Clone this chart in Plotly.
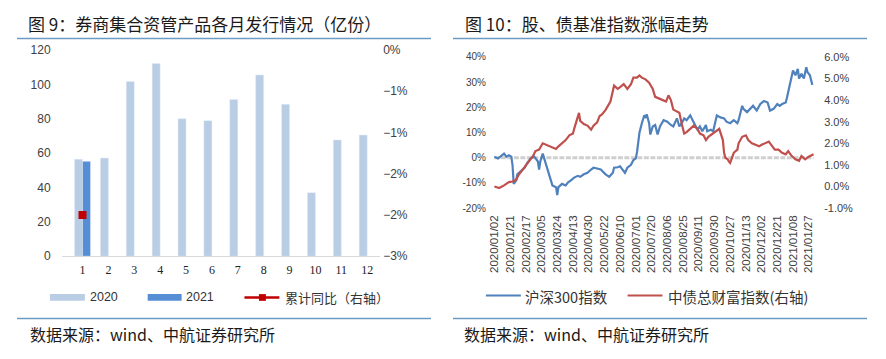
import plotly.graph_objects as go

# The page body has an 8px margin, so the figure is drawn 8px in from the window edge.
WIN_W, WIN_H = 886, 359
OFF = 8
W, H = WIN_W - 2 * OFF, WIN_H - 2 * OFF

# ---------------- Left chart data (图9) ----------------
months = [str(m) for m in range(1, 13)]
issue_2020 = [56.5, 57.1, 101.7, 112.2, 80.0, 78.9, 91.2, 105.5, 88.4, 37.0, 67.7, 70.5]
months_2021 = ["1"]
issue_2021 = [55.2]
cum_yoy_months = ["1"]
cum_yoy = [-0.024]
yoy_tickvals = [0, -0.006, -0.012, -0.018, -0.024, -0.030]
yoy_ticktext = ["0%", "\u22121%", "\u22121%", "\u22122%", "\u22122%", "\u22123%"]

# ---------------- Right chart data (图10) ----------------
# x = trading-day number counted from 2020/01/02 (category axis of trading days)
tick_days = [13 * k for k in range(21)]
tick_dates = ["2020/01/02", "2020/01/21", "2020/02/17", "2020/03/05", "2020/03/24",
              "2020/04/13", "2020/04/30", "2020/05/22", "2020/06/10", "2020/07/01",
              "2020/07/20", "2020/08/06", "2020/08/25", "2020/09/11", "2020/09/30",
              "2020/10/27", "2020/11/13", "2020/12/02", "2020/12/21", "2021/01/08",
              "2021/01/27"]

hs300_day = [0, 3, 5, 8, 10, 12, 14, 15, 16, 18, 19, 22, 25, 27, 30, 33, 36, 37, 38, 40,
             42, 44, 47, 48, 51, 52, 53, 56, 59, 61, 63, 66, 69, 71, 74, 77, 80, 82, 85, 88,
             92, 95, 98, 99, 102, 104, 106, 108, 110, 113, 115, 117, 118, 120, 122, 124, 125,
             126, 128, 129, 131, 133, 135, 137, 140, 143, 146, 148, 151, 153, 155, 157, 159,
             162, 164, 166, 168, 170, 172, 175, 176, 179, 181, 184, 187, 190, 192, 195, 198,
             201, 202, 205, 206, 209, 212, 214, 217, 220, 223, 226, 228, 231, 234, 236, 238,
             241, 242, 245, 246, 247, 249, 251, 252, 254, 256, 258, 259, 261, 263]
hs300_pct = [0.4, -0.3, 0.4, 1.6, 0.4, 1.0, 0.4, -2.8, -10.4, -9.1, -6.6, -5.3, -4.0, -2.2,
             -0.3, 0.4, -1.5, -4.7, -1.5, 1.6, -1.5, -4.0, -9.1, -11.0, -11.7, -14.8, -11.7,
             -10.4, -11.0, -9.8, -9.1, -7.9, -7.2, -7.6, -6.6, -6.0, -4.7, -4.0, -4.3, -4.7,
             -6.6, -7.6, -6.0, -4.0, -3.8, -3.4, -4.7, -6.0, -4.0, -2.8, -0.9, -0.3, 2.3, 9.9,
             13.7, 16.8, 16.2, 17.2, 13.7, 9.2, 12.4, 13.0, 9.2, 12.4, 14.9, 14.3, 13.0, 12.4,
             15.6, 12.4, 13.7, 15.6, 14.9, 16.8, 14.9, 13.0, 11.1, 12.4, 10.5, 13.0, 10.5, 11.1,
             10.5, 16.8, 16.0, 15.6, 14.3, 13.7, 14.9, 13.7, 14.9, 20.6, 19.4, 18.1, 19.4, 20.6,
             18.7, 21.3, 22.5, 21.9, 18.7, 19.4, 21.3, 20.6, 21.3, 21.9, 23.8, 30.2, 32.7, 34.6,
             32.7, 35.2, 31.4, 33.3, 31.4, 35.9, 34.0, 32.7, 28.9]

bond_day = [0, 4, 8, 12, 15, 18, 20, 23, 26, 29, 32, 34, 37, 40, 43, 45, 48, 51, 53, 56, 59,
            62, 65, 66, 69, 70, 71, 74, 77, 80, 82, 85, 87, 89, 92, 95, 96, 99, 102, 104, 107,
            110, 113, 115, 118, 120, 122, 125, 128, 131, 133, 136, 139, 142, 144, 146, 148,
            151, 153, 155, 157, 159, 162, 165, 168, 170, 173, 175, 177, 181, 184, 186, 189,
            190, 191, 193, 194, 195, 198, 201, 202, 205, 208, 210, 213, 216, 219, 221, 224,
            227, 229, 232, 235, 238, 241, 243, 246, 249, 252, 254, 257, 260, 264]
bond_pct = [0.0, -0.07, 0.05, 0.2, 0.23, 0.31, 0.53, 0.75, 0.97, 1.19, 1.41, 1.64, 1.71, 2.0,
            1.93, 1.86, 1.81, 1.74, 1.86, 2.0, 2.15, 2.37, 2.45, 2.67, 3.26, 3.41, 3.04, 2.89,
            2.82, 2.63, 2.82, 2.97, 3.26, 3.34, 3.55, 3.85, 3.93, 4.67, 4.52, 4.6, 4.74, 4.52,
            4.74, 5.04, 5.04, 5.14, 5.04, 4.96, 4.81, 4.52, 4.15, 4.08, 4.0, 3.93, 4.22, 4.0,
            3.56, 3.48, 3.41, 2.89, 2.45, 2.52, 2.67, 2.82, 2.67, 2.45, 2.37, 2.15, 2.3, 2.45,
            2.6, 2.67, 2.15, 1.56, 1.34, 1.26, 1.15, 1.09, 1.56, 1.71, 2.0, 2.3, 2.37, 2.15,
            2.0, 1.93, 1.86, 1.93, 2.0, 2.08, 1.93, 1.71, 1.71, 1.56, 1.49, 1.64, 1.41, 1.26,
            1.19, 1.41, 1.26, 1.38, 1.49]

zero_days = [0, 264]
zero_vals = [0, 0]

left_ticks = [-20, -10, 0, 10, 20, 30, 40]
left_ticktext = ["-20%", "-10%", "0%", "10%", "20%", "30%", "40%"]
right_ticks = [-1, 0, 1, 2, 3, 4, 5, 6]
right_ticktext = ["-1.0%", "0.0%", "1.0%", "2.0%", "3.0%", "4.0%", "5.0%", "6.0%"]

# colours
C2020 = "#b9cde5"
C2021 = "#558ed5"
CRED = "#c00000"
CBLUE = "#4f81bd"
CBRED = "#c0504d"
RULE = "#6e9bc3"

CJK = "Noto Sans CJK SC"
SANS = "Liberation Sans"


def px(x):
    """window pixel x -> paper fraction"""
    return (x - OFF) / W


def py(y):
    """window pixel y -> paper fraction"""
    return 1 - (y - OFF) / H


fig = go.Figure()

# left chart
fig.add_trace(go.Bar(x=months, y=issue_2020, name="2020", marker_color=C2020,
                     xaxis="x", yaxis="y", showlegend=False))
fig.add_trace(go.Bar(x=months_2021, y=issue_2021, name="2021", marker_color=C2021,
                     xaxis="x", yaxis="y", showlegend=False))
fig.add_trace(go.Scatter(x=cum_yoy_months, y=cum_yoy, name="累计同比（右轴）",
                         mode="lines+markers", line=dict(color=CRED, width=2.5),
                         marker=dict(symbol="square", size=8, color=CRED),
                         xaxis="x", yaxis="y2", showlegend=False))

# right chart
fig.add_trace(go.Scatter(x=zero_days, y=zero_vals, mode="lines",
                         line=dict(color="#cfcfcf", width=3, dash="5px,1.5px"),
                         xaxis="x3", yaxis="y3", showlegend=False, hoverinfo="skip"))
fig.add_trace(go.Scatter(x=hs300_day, y=hs300_pct, name="沪深300指数", mode="lines",
                         line=dict(color=CBLUE, width=2.2),
                         xaxis="x3", yaxis="y3", showlegend=False))
fig.add_trace(go.Scatter(x=bond_day, y=bond_pct, name="中债总财富指数(右轴)", mode="lines",
                         line=dict(color=CBRED, width=2.2),
                         xaxis="x3", yaxis="y4", showlegend=False))

tickfont = dict(family=SANS, size=12, color="#404040")

fig.update_layout(
    width=W, height=H, autosize=False,
    margin=dict(l=0, r=0, t=0, b=0),
    paper_bgcolor="white", plot_bgcolor="white",
    barmode="group", bargap=0.38, bargroupgap=0,
    xaxis=dict(domain=[px(59.7), px(379)], anchor="y", type="category",
               showgrid=False, showline=True, linecolor="#d9d9d9", linewidth=1,
               ticks="", tickfont=dict(family="Liberation Serif", size=12, color="#222"),
               ticklabelstandoff=2),
    yaxis=dict(domain=[py(259.5), py(44.5)], range=[0, 120], dtick=20,
               showgrid=False, zeroline=False, showline=False, ticks="",
               tickfont=tickfont, ticklabelstandoff=10),
    yaxis2=dict(overlaying="y", side="right", anchor="x", range=[-0.03, 0],
                tickvals=yoy_tickvals, ticktext=yoy_ticktext,
                showgrid=False, zeroline=False, showline=False, ticks="",
                tickfont=tickfont, ticklabelstandoff=2),
    xaxis3=dict(domain=[px(489), px(818)], anchor="y3", range=[-3.7, 267.8],
                tickvals=tick_days, ticktext=tick_dates, tickangle=-90,
                showgrid=False, showline=False, zeroline=False, ticks="",
                tickfont=dict(family=SANS, size=11.5, color="#404040"),
                ticklabelstandoff=4),
    yaxis3=dict(domain=[py(209.3), py(51.7)], anchor="x3", range=[-20, 40],
                tickvals=left_ticks, ticktext=left_ticktext,
                showgrid=False, zeroline=False, showline=False, ticks="",
                tickfont=dict(family=SANS, size=10, color="#404040"),
                ticklabelstandoff=3),
    yaxis4=dict(overlaying="y3", side="right", anchor="x3", range=[-1, 6],
                tickvals=right_ticks, ticktext=right_ticktext,
                showgrid=False, zeroline=False, showline=False, ticks="",
                tickfont=dict(family=SANS, size=11, color="#404040"),
                ticklabelstandoff=5),
)

shapes = []
# rules
for (x0, x1) in [(15, 430), (452, 867)]:
    shapes.append(dict(type="line", xref="paper", yref="paper", x0=px(x0), x1=px(x1),
                       y0=py(32.5), y1=py(32.5), line=dict(color=RULE, width=1.5)))
    shapes.append(dict(type="line", xref="paper", yref="paper", x0=px(x0), x1=px(x1),
                       y0=py(324.5), y1=py(324.5), line=dict(color=RULE, width=1.5)))
# left legend
shapes.append(dict(type="rect", xref="paper", yref="paper", x0=px(48), x1=px(83),
                   y0=py(306), y1=py(299), fillcolor=C2020, line=dict(width=0)))
shapes.append(dict(type="rect", xref="paper", yref="paper", x0=px(146), x1=px(180),
                   y0=py(306), y1=py(299), fillcolor=C2021, line=dict(width=0)))
shapes.append(dict(type="line", xref="paper", yref="paper", x0=px(243), x1=px(278),
                   y0=py(302.5), y1=py(302.5), line=dict(color=CRED, width=2.5)))
shapes.append(dict(type="rect", xref="paper", yref="paper", x0=px(257.5), x1=px(264.5),
                   y0=py(306), y1=py(299), fillcolor=CRED, line=dict(width=0)))
# right legend
shapes.append(dict(type="line", xref="paper", yref="paper", x0=px(485), x1=px(520),
                   y0=py(300.5), y1=py(300.5), line=dict(color=CBLUE, width=2)))
shapes.append(dict(type="line", xref="paper", yref="paper", x0=px(627), x1=px(662),
                   y0=py(300.5), y1=py(300.5), line=dict(color=CBRED, width=2)))
fig.update_layout(shapes=shapes)


def text(x, y, s, size, family=CJK, color="#1a1a1a"):
    return dict(x=px(x), y=py(y), xref="paper", yref="paper", text=s, showarrow=False,
                xanchor="left", yanchor="middle", font=dict(family=family, size=size, color=color))


annotations = [
    text(24, 17, "图 9：券商集合资管产品各月发行情况（亿份）", 17),
    text(462, 17, "图 10：股、债基准指数涨幅走势", 17),
    text(26, 341, "数据来源：wind、中航证券研究所", 16),
    text(461, 341, "数据来源：wind、中航证券研究所", 16),
    text(86, 302.5, "2020", 12.5, family=SANS, color="#333"),
    text(182, 302.5, "2021", 12.5, family=SANS, color="#333"),
    text(282, 302.5, "累计同比（右轴）", 13, color="#333"),
    text(522, 301, "沪深300指数", 14.5, color="#333"),
    text(666, 301, "中债总财富指数(右轴)", 14.5, color="#333"),
]
fig.update_layout(annotations=annotations)

fig.write_html("out.html")
